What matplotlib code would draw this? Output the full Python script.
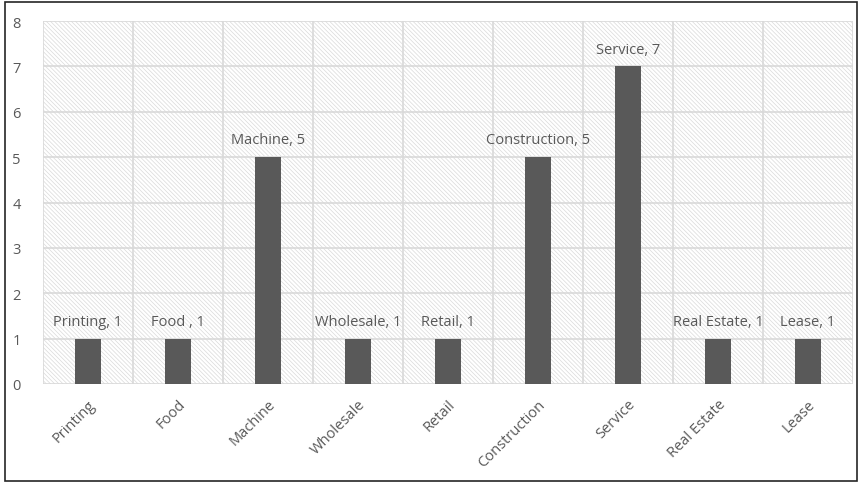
import matplotlib.pyplot as plt
from matplotlib.patches import Rectangle

# data
categories = ["Printing", "Food ", "Machine", "Wholesale", "Retail",
              "Construction", "Service", "Real Estate", "Lease"]
values = [1, 1, 5, 1, 1, 5, 7, 1, 1]
yticks = [0, 1, 2, 3, 4, 5, 6, 7, 8]

plt.rcParams['font.family'] = ['Open Sans', 'DejaVu Sans']
plt.rcParams['hatch.linewidth'] = 0.5

text_col = '#595959'
bar_col = '#595959'
grid_col = '#d9d9d9'

fig = plt.figure(figsize=(8.63, 4.85), dpi=100)
ax = fig.add_axes([0.0498, 0.2062, 0.9386, 0.7484])

# outer frame
fig.patches.append(Rectangle((5 / 863, 3 / 485), 852 / 863, 479 / 485,
                             transform=fig.transFigure, fill=False,
                             edgecolor='#262626', linewidth=1.2))

# hatched plot area
ax.add_patch(Rectangle((0, 0), 1, 1, transform=ax.transAxes, facecolor='white',
                       edgecolor='#dadada', linewidth=0, hatch='\\\\\\\\\\\\\\\\',
                       zorder=0))

x = list(range(len(categories)))
ax.bar(x, values, width=0.28, color=bar_col, zorder=3)

for xi, v, c in zip(x, values, categories):
    ax.annotate(f"{c}, {v}", (xi, v), xytext=(0, 7), textcoords='offset points',
                ha='center', va='bottom', fontsize=10.5, color=text_col, zorder=4)

ax.set_xlim(-0.5, len(categories) - 0.5)
ax.set_ylim(0, 8)
ax.set_yticks(yticks)
ax.set_xticks(x)
ax.set_xticklabels([c.strip() for c in categories], rotation=45, ha='right',
                   rotation_mode='anchor', fontsize=10.5, color=text_col)
ax.tick_params(axis='y', labelsize=10.5, labelcolor=text_col, length=0, pad=16)
ax.tick_params(axis='x', length=0, pad=9)

# grid: horizontal at each integer, vertical between categories
for yv in yticks:
    ax.axhline(yv, color=grid_col, linewidth=1.2, zorder=1)
for b in range(len(categories) + 1):
    ax.axvline(b - 0.5, color=grid_col, linewidth=1.2, zorder=1)

for s in ax.spines.values():
    s.set_visible(False)

fig.savefig('out.png', dpi=100)
